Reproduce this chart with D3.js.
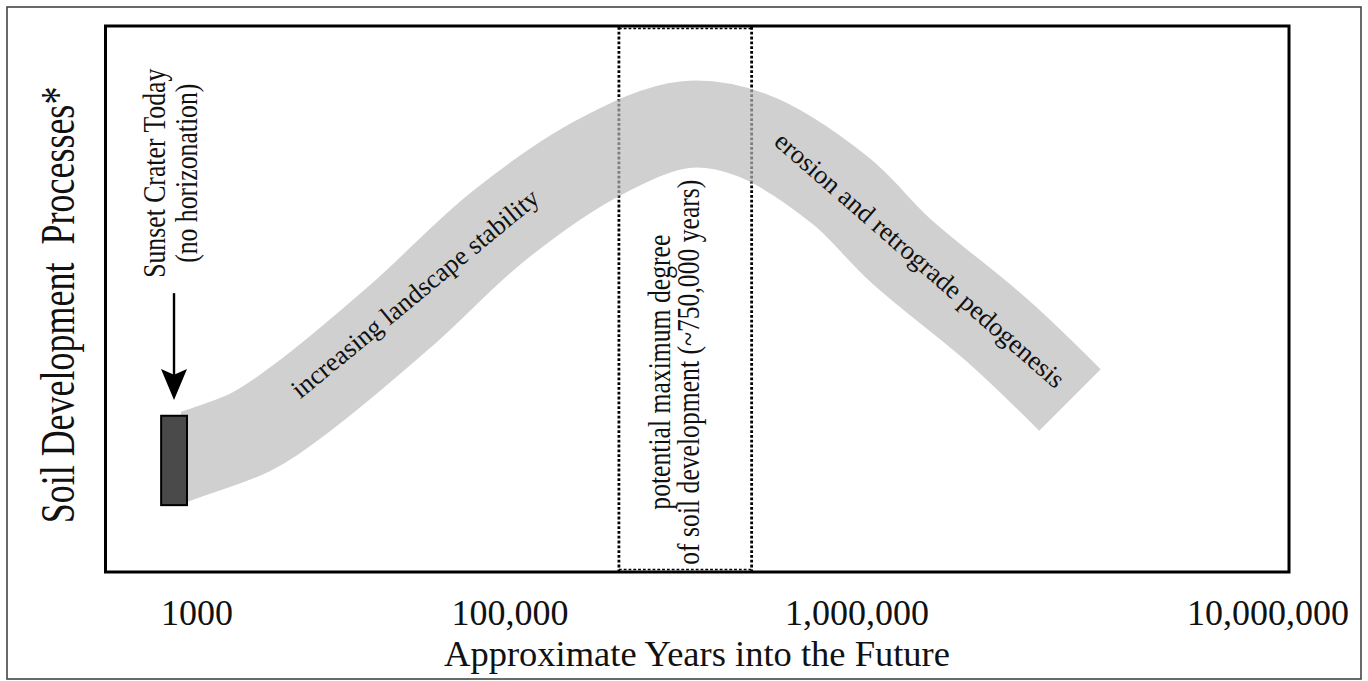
<!DOCTYPE html>
<html><head><meta charset="utf-8">
<script src="https://cdn.jsdelivr.net/npm/d3@7"></script>
<style>
body{margin:0;background:#fff}
svg{display:block}
text{font-family:"Liberation Serif","Times New Roman",serif;fill:#111;white-space:pre}
</style>
</head><body><svg id="c" width="1368" height="681"></svg>
<script>
// ---- data ----
const tickYears  = [1000, 100000, 1000000, 10000000];
const tickLabels = ["1000", "100,000", "1,000,000", "10,000,000"];
// centre line of the grey "soil development" band (years, relative level 0-100)
const bandYears = [640, 850, 2200, 4500, 20000, 86000, 182000, 319000, 497000, 893000, 1273000, 2229000, 3297000];
const bandLevel = [19.6, 20.9, 25.3, 31.2, 46.6, 63.3, 75.8, 81.7, 79.8, 69.7, 58.7, 43.5, 31.2];
// Sunset Crater today block
const todayYears = [590, 863];
const todayLevel = [11.9, 28.3];
// arrow pointing at today
const arrowYear = 713;
const arrowLevel = [50.8, 34.9, 31.2, 36.7];   // stem top, stem bottom, tip, head base
// window of potential maximum development
const maxYears = [206000, 497000];
// annotations
const labels = [
  {text:"increasing landscape stability", year:24700, level:50.8, angle:-39.5, size:26.5},
  {text:"erosion and retrograde pedogenesis", year:1423000, level:56.9, angle:41, size:26.5}
];
const maxText = ["potential maximum degree", "of soil development (~750,000 years)"];
const maxTextYears = [290000, 350000];
const maxTextLevel = 36.3;
const todayText = ["Sunset Crater Today", "(no horizonation)"];
const todayTextYears = [624, 1000];
const todayTextLevel = 72.8;
const xTitle = "Approximate Years into the Future";
const yTitle = "Soil Development  Processes*";

// ---- scales ----
const x = d3.scaleLog().domain(tickYears).range([197, 510, 857, 1268]);
const y = d3.scaleLinear().domain([0, 100]).range([570, 25]);

const svg = d3.select("#c");

// outer frame
svg.append("rect").attr("x",7).attr("y",7).attr("width",1354).attr("height",672)
  .attr("fill","none").attr("stroke","#444").attr("stroke-width",1.6);

// dotted window
const dot = svg.append("g").attr("stroke","#000").attr("stroke-width",2.8).attr("stroke-dasharray","2.8,2");
maxYears.forEach(v => {
  dot.append("line").attr("x1",x(v)).attr("x2",x(v)).attr("y1",27).attr("y2",571);
});
dot.append("line").attr("x1",x(maxYears[0])).attr("x2",x(maxYears[1])).attr("y1",28.5).attr("y2",28.5).attr("stroke-width",1.5);
dot.append("line").attr("x1",x(maxYears[0])).attr("x2",x(maxYears[1])).attr("y1",569.5).attr("y2",569.5).attr("stroke-width",1.5);

// band
const bandData = bandYears.map((v,i)=>({year:v, level:bandLevel[i]}));
svg.append("clipPath").attr("id","bclip").append("rect")
  .attr("x", x(todayYears[1]) - 6).attr("y", 0).attr("width", 1368).attr("height", 681);
const line = d3.line().x(d=>x(d.year)).y(d=>y(d.level)).curve(d3.curveCatmullRom.alpha(0.5));
svg.append("path").attr("d", line(bandData)).attr("clip-path","url(#bclip)")
  .attr("fill","none").attr("stroke","#b9b9b9").attr("stroke-opacity",0.68)
  .attr("stroke-width",87).attr("stroke-linecap","butt");

// today block
svg.append("rect").attr("x",x(todayYears[0])).attr("y",y(todayLevel[1]))
  .attr("width",x(todayYears[1])-x(todayYears[0])).attr("height",y(todayLevel[0])-y(todayLevel[1]))
  .attr("fill","#4a4a4a").attr("stroke","#000").attr("stroke-width",2);

// arrow
const ax = x(arrowYear);
svg.append("line").attr("x1",ax).attr("x2",ax).attr("y1",y(arrowLevel[0])).attr("y2",y(arrowLevel[1]))
  .attr("stroke","#000").attr("stroke-width",2.4);
svg.append("path").attr("fill","#000")
  .attr("d",`M${ax-13},${y(arrowLevel[3])-1}L${ax},${y(arrowLevel[2])}L${ax+13},${y(arrowLevel[3])-1}L${ax},${y(arrowLevel[1])-5}Z`);

// inner plot frame
svg.append("rect").attr("x",105.5).attr("y",26).attr("width",1183.5).attr("height",546)
  .attr("fill","none").attr("stroke","#000").attr("stroke-width",3);

// tick labels
svg.append("g").selectAll("text").data(tickYears).join("text")
  .attr("x",d=>x(d)).attr("y",625).attr("text-anchor","middle").attr("font-size",36)
  .text((d,i)=>tickLabels[i]);

// titles
svg.append("text").attr("x",697).attr("y",666).attr("text-anchor","middle").attr("font-size",36.5).text(xTitle);
svg.append("text").attr("transform","translate(74,305) rotate(-90) scale(0.75,1)").attr("text-anchor","middle")
  .attr("font-size",48).text(yTitle);

// band labels
labels.forEach(l=>{
  svg.append("text").attr("transform",`translate(${x(l.year)},${y(l.level)}) rotate(${l.angle})`)
    .attr("text-anchor","middle").attr("dominant-baseline","central").attr("font-size",l.size).text(l.text);
});

// window labels
maxText.forEach((t,i)=>{
  svg.append("text").attr("transform",`translate(${x(maxTextYears[i])},${y(maxTextLevel)}) rotate(-90) scale(0.79,1)`)
    .attr("text-anchor","middle").attr("font-size",32.5).text(t);
});
// today labels
todayText.forEach((t,i)=>{
  svg.append("text").attr("transform",`translate(${x(todayTextYears[i])},${y(todayTextLevel)}) rotate(-90) scale(0.83,1)`)
    .attr("text-anchor","middle").attr("font-size",31).text(t);
});
</script>
</body></html>
